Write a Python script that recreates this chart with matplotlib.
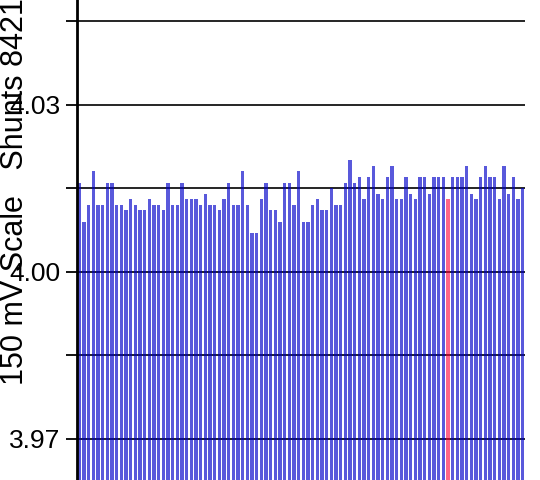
import numpy as np
import matplotlib
matplotlib.use("Agg")
import matplotlib.pyplot as plt
from matplotlib.ticker import FixedLocator, FormatStrFormatter, NullFormatter

plt.rcParams['font.family'] = ['Liberation Sans', 'DejaVu Sans']

# cell voltages, one per shunt
voltages = [
    4.016, 4.009, 4.012, 4.018, 4.012, 4.012, 4.016, 4.016, 4.012, 4.012,
    4.011, 4.013, 4.012, 4.011, 4.011, 4.013, 4.012, 4.012, 4.011, 4.016,
    4.012, 4.012, 4.016, 4.013, 4.013, 4.013, 4.012, 4.014, 4.012, 4.012,
    4.011, 4.013, 4.016, 4.012, 4.012, 4.018, 4.012, 4.007, 4.007, 4.013,
    4.016, 4.011, 4.011, 4.009, 4.016, 4.016, 4.012, 4.018, 4.009, 4.009,
    4.012, 4.013, 4.011, 4.011, 4.015, 4.012, 4.012, 4.016, 4.020, 4.016,
    4.017, 4.013, 4.017, 4.019, 4.014, 4.013, 4.017, 4.019, 4.013, 4.013,
    4.017, 4.014, 4.013, 4.017, 4.017, 4.014, 4.017, 4.017, 4.017, 4.013,
    4.017, 4.017, 4.017, 4.019, 4.014, 4.013, 4.017, 4.019, 4.017, 4.017,
    4.013, 4.019, 4.014, 4.017, 4.013, 4.015,
]
highlight = 79  # the one cell drawn in red
major_ticks = [3.97, 4.00, 4.03]
minor_ticks = [3.985, 4.015, 4.045]
ylabel_text = "150 mV Scale   Shunts 8421"

x = np.arange(len(voltages))
colors = ['#0000c8'] * len(voltages)
colors[highlight] = '#ff0038'
alphas = [0.65] * len(voltages)
alphas[highlight] = 0.6

fig = plt.figure(figsize=(5.4, 4.8), dpi=100)
ax = fig.add_axes([77 / 540, 0, 448 / 540, 1])

ax.yaxis.set_major_locator(FixedLocator(major_ticks))
ax.yaxis.set_minor_locator(FixedLocator(minor_ticks))
ax.yaxis.set_major_formatter(FormatStrFormatter('%.2f'))
ax.yaxis.set_minor_formatter(NullFormatter())
ax.grid(True, which='both', axis='y', color='black', linewidth=1.2)
ax.set_axisbelow(True)

bars = ax.bar(x, voltages, width=0.72, color=colors)
for b, a in zip(bars, alphas):
    b.set_alpha(a)

ax.set_xlim(-0.5, len(voltages) - 0.5)
ax.set_ylim(3.96264, 4.04877)
ax.set_xticks([])
ax.tick_params(axis='y', which='both', direction='out', length=8, width=1.3,
               pad=4, labelsize=19)
for s in ['top', 'right', 'bottom']:
    ax.spines[s].set_visible(False)
ax.spines['left'].set_linewidth(2)

fig.text(0.0, 1 - 385 / 480, ylabel_text, rotation=90, ha='left', va='bottom',
         fontsize=22)

fig.savefig('out.png', dpi=100)
